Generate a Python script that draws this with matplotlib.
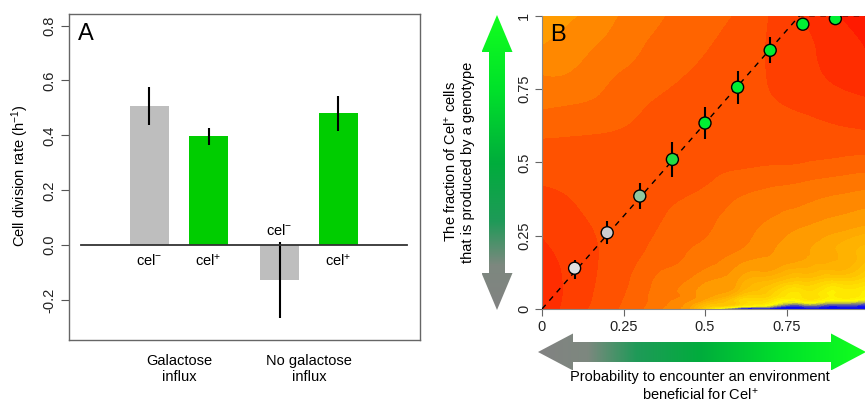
import numpy as np
import matplotlib
matplotlib.use("Agg")
import matplotlib.pyplot as plt
import matplotlib.tri as mtri
from matplotlib.colors import LinearSegmentedColormap
from matplotlib.patches import Polygon

plt.rcParams['font.family'] = ['Liberation Sans', 'DejaVu Sans']
plt.rcParams['mathtext.fontset'] = 'custom'
plt.rcParams['mathtext.rm'] = 'Liberation Sans'
plt.rcParams['mathtext.it'] = 'Liberation Sans:italic'
plt.rcParams['axes.unicode_minus'] = False
plt.rcParams['font.size'] = 10.5

# ---- panel A data ----
bar_names = ['cel$^{-}$', 'cel$^{+}$', 'cel$^{-}$', 'cel$^{+}$']
rates = [0.507, 0.397, -0.126, 0.481]
rate_lo = [0.437, 0.366, -0.266, 0.417]
rate_hi = [0.577, 0.427, 0.013, 0.544]
bar_colors = ['#bebebe', '#00cd00', '#bebebe', '#00cd00']
groups = ['Galactose\ninflux', 'No galactose\ninflux']
a_yticks = [-0.2, 0.0, 0.2, 0.4, 0.6, 0.8]

# ---- panel B data ----
prob = [0.1, 0.2, 0.3, 0.4, 0.5, 0.6, 0.7, 0.8, 0.9]
frac = [0.139, 0.26, 0.385, 0.51, 0.634, 0.756, 0.882, 0.971, 0.99]
frac_lo = [0.102, 0.222, 0.34, 0.45, 0.58, 0.699, 0.838, 0.971, 0.99]
frac_hi = [0.167, 0.301, 0.429, 0.57, 0.689, 0.812, 0.927, 0.971, 0.99]
point_colors = ['#e0e0e0', '#cdcdcd', '#8fc7a0', '#22dd44', '#00ee33',
                '#00ee33', '#00ee33', '#00ee33', '#00ee33']
line_x = [0.0, 0.79, 1.0]
line_y = [0.0, 1.0, 1.0]
b_ticks = [0, 0.25, 0.5, 0.75, 1]
b_xticklabels = ['0', '0.25', '0.5', '0.75', '']
b_yticklabels = ['0', '0.25', '0.5', '0.75', '1']

# background landscape (rows: fraction, cols: probability)
grid_p = [0.0, 0.1, 0.2, 0.3, 0.4, 0.5, 0.6, 0.7, 0.8, 0.9, 1.0]
grid_f = [0.0, 0.01, 0.025, 0.05, 0.1, 0.2, 0.3, 0.4, 0.5, 0.6, 0.7, 0.8, 0.9, 1.0]
landscape = [
    [0.84, 0.77, 0.72, 0.657, 0.575, 0.37, 0.0, 0.0, 0.0, 0.0, 0.0],
    [0.84, 0.772, 0.722, 0.66, 0.585, 0.42, 0.3, 0.2, 0.1, 0.07, 0.05],
    [0.84, 0.775, 0.725, 0.665, 0.595, 0.47, 0.38, 0.31, 0.26, 0.22, 0.18],
    [0.84, 0.778, 0.728, 0.67, 0.605, 0.52, 0.44, 0.38, 0.33, 0.30, 0.27],
    [0.835, 0.78, 0.733, 0.68, 0.62, 0.56, 0.50, 0.45, 0.41, 0.38, 0.35],
    [0.81, 0.775, 0.74, 0.705, 0.67, 0.635, 0.60, 0.555, 0.51, 0.475, 0.44],
    [0.785, 0.758, 0.738, 0.715, 0.69, 0.66, 0.63, 0.595, 0.565, 0.535, 0.51],
    [0.755, 0.745, 0.735, 0.725, 0.71, 0.693, 0.66, 0.64, 0.625, 0.607, 0.593],
    [0.73, 0.727, 0.725, 0.723, 0.72, 0.715, 0.71, 0.705, 0.70, 0.688, 0.677],
    [0.69, 0.695, 0.70, 0.708, 0.715, 0.72, 0.725, 0.73, 0.735, 0.74, 0.745],
    [0.64, 0.648, 0.665, 0.693, 0.71, 0.72, 0.73, 0.745, 0.758, 0.775, 0.79],
    [0.598, 0.605, 0.64, 0.665, 0.69, 0.71, 0.728, 0.753, 0.78, 0.81, 0.83],
    [0.548, 0.58, 0.61, 0.645, 0.67, 0.695, 0.72, 0.755, 0.788, 0.82, 0.855],
    [0.5, 0.545, 0.585, 0.625, 0.655, 0.68, 0.705, 0.752, 0.797, 0.845, 0.88],
]

W, H = 865, 403
fig = plt.figure(figsize=(W / 100, H / 100), dpi=100)

# overlay in pixel coordinates for the gradient arrows
ov = fig.add_axes([0, 0, 1, 1])
ov.set_xlim(0, W)
ov.set_ylim(H, 0)
ov.axis('off')
arrow_cmap = LinearSegmentedColormap.from_list(
    'arr', [(0, '#828282'), (0.15, '#7d887f'), (0.3, '#1f9a58'),
            (0.5, '#00ad3c'), (0.75, '#00e22a'), (1, '#12ff1e')])
grad = np.linspace(0, 1, 256)

# vertical arrow
cx, top, bot, hl, hw, sw = 497, 15, 310, 37, 15.5, 8
v_verts = [(cx, top), (cx + hw, top + hl), (cx + sw, top + hl), (cx + sw, bot - hl),
           (cx + hw, bot - hl), (cx, bot), (cx - hw, bot - hl), (cx - sw, bot - hl),
           (cx - sw, top + hl), (cx - hw, top + hl)]
vp = Polygon(v_verts, closed=True, facecolor='none', edgecolor='none')
ov.add_patch(vp)
im = ov.imshow(grad[::-1][:, None], extent=[cx - hw, cx + hw, bot, top],
               cmap=arrow_cmap, aspect='auto')
im.set_clip_path(vp)

# horizontal arrow
cy, lft, rgt, hl2, hw2, sw2 = 352, 538, 866, 35, 18.5, 10
h_verts = [(lft, cy), (lft + hl2, cy - hw2), (lft + hl2, cy - sw2), (rgt - hl2, cy - sw2),
           (rgt - hl2, cy - hw2), (rgt, cy), (rgt - hl2, cy + hw2), (rgt - hl2, cy + sw2),
           (lft + hl2, cy + sw2), (lft + hl2, cy + hw2)]
hp = Polygon(h_verts, closed=True, facecolor='none', edgecolor='none')
ov.add_patch(hp)
im2 = ov.imshow(grad[None, :], extent=[lft, rgt, cy + hw2, cy - hw2],
                cmap=arrow_cmap, aspect='auto')
im2.set_clip_path(hp)

# ---- panel A ----
ax = fig.add_axes([69 / W, 63 / H, 351 / W, 326 / H])
bar_x = [2.06, 3.58, 5.40, 6.91]
ax.bar(bar_x, rates, width=1.0, color=bar_colors, zorder=2)
ax.vlines(bar_x, rate_lo, rate_hi, color='black', lw=1.5, zorder=3)
ax.axhline(0, xmin=0.034, xmax=0.963, color='#333333', lw=1.3, zorder=4)
ax.set_xlim(0, 9)
ax.set_ylim(-0.345, 0.842)
ax.set_xticks([])
ax.set_yticks(a_yticks)
ax.set_yticklabels([f'{v:.1f}' for v in a_yticks], rotation=90, va='center')
ax.tick_params(axis='y', length=6, color='#555555', pad=3, labelcolor='#222222')
for s in ax.spines.values():
    s.set_color('#666666')
    s.set_linewidth(1.0)
for i, name in enumerate(bar_names):
    ty = 0.055 if rates[i] < 0 else -0.055
    ax.text(bar_x[i], ty, name, ha='center', va='center')
for gx, g in zip([(bar_x[0] + bar_x[1]) / 2, (bar_x[2] + bar_x[3]) / 2], groups):
    ax.text(gx, -0.452, g, ha='center', va='center', clip_on=False)
fig.text(20 / W, 1 - 176 / H, 'Cell division rate (h$^{-1}$)', rotation=90,
         ha='center', va='center')
fig.text(86 / W, 1 - 34 / H, 'A', fontsize=17, ha='center', va='center')

# ---- panel B ----
axb = fig.add_axes([542 / W, 94 / H, 326 / W, 293.3 / H])
field_cmap = LinearSegmentedColormap.from_list(
    'field', [(0, '#0000ff'), (0.06, '#1010f0'), (0.25, '#ffff00'), (0.95, '#ff0000'),
              (1, '#ff0000')])
levels = list(np.arange(0, 0.5, 0.025)) + list(np.arange(0.5, 0.96, 0.05))

# smooth the read-off grid with matplotlib's own triangulation refiner
pp, ff = np.meshgrid(grid_p, grid_f)
tri = mtri.Triangulation(pp.ravel(), ff.ravel())
zz = np.asarray(landscape).ravel()
refiner = mtri.UniformTriRefiner(tri)
interp = mtri.CubicTriInterpolator(tri, zz, kind='min_E')
tri_f, z_f = refiner.refine_field(zz, subdiv=4, triinterpolator=interp)
z_f = np.clip(z_f, 0, 0.95)
axb.tricontourf(tri_f, z_f, levels=levels, cmap=field_cmap, vmin=0, vmax=1, zorder=1)

axb.plot(line_x, line_y, color='black', lw=1.0, linestyle=(0, (4, 4)), zorder=3)
axb.vlines(prob, frac_lo, frac_hi, color='black', lw=1.5, zorder=4)
axb.scatter(prob, frac, s=75, c=point_colors, edgecolors='black', linewidths=1.0,
            zorder=5)
axb.set_xlim(0, 1)
axb.set_ylim(0, 1)
axb.set_xticks(b_ticks)
axb.set_xticklabels(b_xticklabels)
axb.set_yticks(b_ticks)
axb.set_yticklabels(b_yticklabels, rotation=90, va='center')
axb.tick_params(length=5, color='#666666', labelcolor='#222222', pad=3)
axb.spines['top'].set_visible(False)
axb.spines['right'].set_visible(False)
axb.spines['left'].set_color('#888888')
axb.spines['bottom'].set_color('#888888')
fig.text(558 / W, 1 - 35 / H, 'B', fontsize=17, ha='center', va='center')
fig.text(459 / W, 1 - 162 / H,
         'The fraction of Cel$^{+}$ cells\nthat is produced by a genotype',
         rotation=90, ha='center', va='center', multialignment='center')
fig.text(700 / W, 1 - 386 / H,
         'Probability to encounter an environment\nbeneficial for Cel$^{+}$',
         ha='center', va='center', multialignment='center')

fig.savefig('out.png', dpi=100)
